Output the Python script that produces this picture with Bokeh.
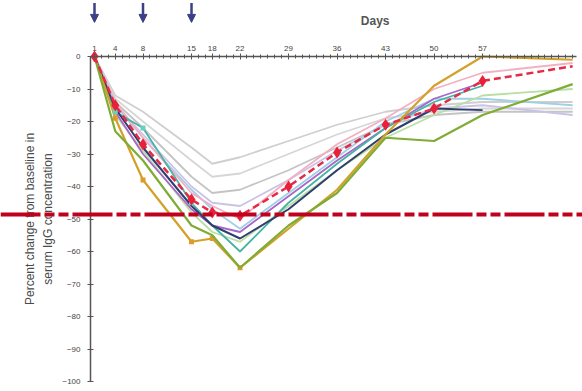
from bokeh.plotting import figure
from bokeh.models import FixedTicker, Range1d, Span, Arrow, NormalHead, ColumnDataSource
from bokeh.embed import file_html
from bokeh.resources import INLINE
from bokeh.core.properties import value

nan = float("nan")

# ---- data ----
days = [1, 4, 8, 15, 18, 22, 29, 36, 43, 50, 57, 70]
tick_days = [1, 4, 8, 15, 18, 22, 29, 36, 43, 50, 57]
tick_labels = ["1", "4", "8", "15", "18", "22", "29", "36", "43", "50", "57"]
dose_days = [1, 8, 15]
y_ticks = [0, -10, -20, -30, -40, -50, -60, -70, -80, -90, -100]
threshold = -48.6

gray1_pct = [0, -12, -17, -28, -33, -31, -26, -21, -17, -15, -14, -14]
gray2_pct = [0, -13, -20, -32, -37, -36, -30, -24, -19, -17, -16, -16]
gray3_pct = [0, -14, -22, -37, -42, -41, -35, -28, -21, -18, -17, -17]
lilac_pct = [0, -15, -24, -40, -45, -46, -38, -29, -21, -16, -15, -18]
ltblue_pct = [0, -15, -25, -41, -47, -53, -42, -31, -20, -13, -13, -15]
pink_pct = [0, -14, -25, -42, -46, -50, -38, -27, -19, -10, -5, -2]
ltgreen_pct = [0, -18, -29, -48, -54, -57, -46, -35, -25, -18, -12, -10]
purple_pct = [0, -17, -30, -47, -52, -54, -43, -32, -22, -13, -8, nan]
teal_pct = [0, -17, -22, -45, -52, -60, -45, -33, -22, -14, -9, nan]
navy_pct = [0, -16, -28, -46, -52, -56, -47, -35, -24, -16, -16.5, nan]
gold_pct = [0, -19, -38, -57, -56, -65, -53, -41, -24, -9, 0, -1]
green_pct = [0, -23, -32, -52, -55, -65, -52, -42, -25, -26, -18, -8.5]
mean_pct = [0, -15, -27, -44, -48, -49, -40, -29.5, -21, -16, -7.5, -3]

# ---- figure ----
PX_PER_DAY = 6.93
PX_PER_PCT = 3.25
W, H = 582, 391
x0 = 1 - 94 / PX_PER_DAY
y1 = 56 / PX_PER_PCT
p = figure(width=W, height=H, output_backend="svg", toolbar_location=None,
           x_range=Range1d(x0, x0 + W / PX_PER_DAY),
           y_range=Range1d(y1 - H / PX_PER_PCT, y1),
           x_axis_location="above", min_border=0)
p.outline_line_color = None
p.xgrid.visible = False
p.ygrid.visible = False
p.background_fill_color = "white"

axis_col = "#555555"
xa = p.xaxis[0]
xa.fixed_location = 0
xa.bounds = (1 - 4 / PX_PER_DAY, x0 + (W - 6) / PX_PER_DAY)
xa.ticker = FixedTicker(ticks=tick_days, minor_ticks=list(range(1, 71)))
xa.major_label_overrides = {d: l for d, l in zip(tick_days, tick_labels)}
xa.axis_line_color = axis_col
xa.axis_line_width = 1.5
xa.major_tick_line_color = axis_col
xa.minor_tick_line_color = axis_col
xa.major_tick_in = 3
xa.major_tick_out = 3
xa.minor_tick_in = 2
xa.minor_tick_out = 2
xa.major_label_text_font = "Liberation Sans"
xa.major_label_text_font_size = "8px"
xa.major_label_text_color = "#444444"
xa.major_label_standoff = 3

ya = p.yaxis[0]
ya.fixed_location = 1 - 4 / PX_PER_DAY
ya.bounds = (-100, 0)
ya.ticker = FixedTicker(ticks=y_ticks)
ya.minor_tick_line_color = None
ya.axis_line_color = axis_col
ya.axis_line_width = 1.5
ya.major_tick_line_color = axis_col
ya.major_tick_in = 3
ya.major_tick_out = 3
ya.major_label_text_font = "Liberation Sans"
ya.major_label_text_font_size = "8px"
ya.major_label_text_color = "#444444"
ya.major_label_standoff = 7
ya.axis_label = "Percent change from baseline in\nserum IgG concentration"
ya.axis_label_text_font = "Liberation Sans"
ya.axis_label_text_font_size = "12px"
ya.axis_label_text_font_style = "normal"
ya.axis_label_text_color = "#4a4a4a"
ya.axis_label_text_line_height = 1.3
ya.axis_label_standoff = 4

# ---- series ----
thin = [
    (gray1_pct, "#cfcfcf"), (gray2_pct, "#d6d6d6"), (gray3_pct, "#c4c4c4"),
    (lilac_pct, "#c9c3e6"), (ltblue_pct, "#9fd0e6"), (pink_pct, "#f3b0c4"),
    (ltgreen_pct, "#b9dfa4"), (purple_pct, "#a866c8"), (teal_pct, "#47b3a6"),
]
for vals, col in thin:
    p.line(days, vals, line_color=col, line_width=1.8)

p.line(days, navy_pct, line_color="#2f3e6e", line_width=2)
p.line(days, gold_pct, line_color="#d3a12a", line_width=2.2)
p.scatter(days[:6], gold_pct[:6], marker="square", size=5, fill_color="#e09a2a", line_color=None)
p.line(days, green_pct, line_color="#7fac35", line_width=2.2)
p.scatter(days[1:4], teal_pct[1:4], marker="square", size=5, fill_color="#6ccfbf", line_color=None)

p.line(days, mean_pct, line_color="#e62a45", line_width=2.5, line_dash="7 4")
p.scatter(days[:11], mean_pct[:11], marker="diamond", size=12, fill_color="#e8203a", line_color=None)

# threshold line
p.add_layout(Span(location=threshold, dimension="width", line_color="#c0001c",
                  line_width=4, line_dash="40 4 10 4 10 4"))

# dose arrows
arr_src = ColumnDataSource(dict(x=dose_days, ys=[16.5] * len(dose_days), ye=[10.5] * len(dose_days)))
p.add_layout(Arrow(source=arr_src, x_start="x", y_start="ys", x_end="x", y_end="ye",
                   line_color="#3b4086", line_width=2.5,
                   end=NormalHead(size=8, fill_color="#3b4086", line_color="#3b4086")))

p.text(x=[41.5], y=[10.8], text=["Days"], text_font=value("Liberation Sans"),
       text_font_size="12px", text_font_style="bold", text_color="#555555",
       text_align="center", text_baseline="middle")

open("out.html", "w").write(file_html(p, INLINE))
